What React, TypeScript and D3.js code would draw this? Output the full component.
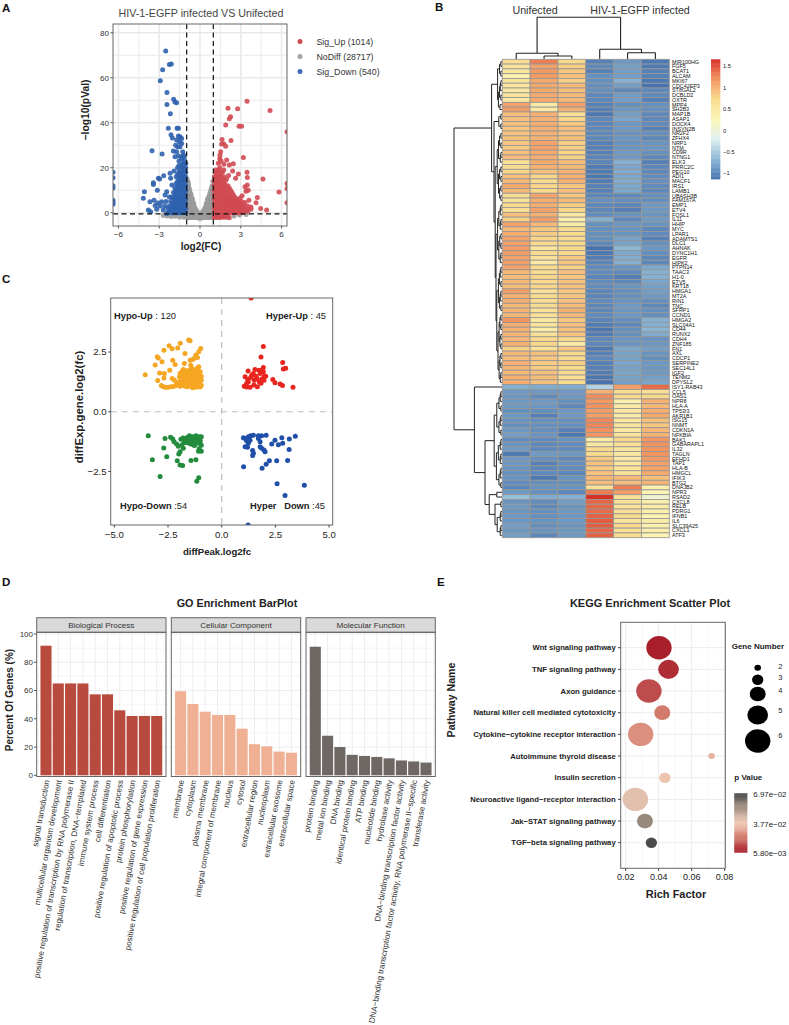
import * as d3 from "d3";

const FONT = "'Liberation Sans', Arial, sans-serif";
const MINUS = "\u2212";
const fmt = (s: string | number) => String(s).replace("-", MINUS);

// ---- A: volcano ----
const volcanoXTicks = [-6, -3, 0, 3, 6];
const volcanoYTicks = [0, 20, 40, 60, 80];
const volcanoLegend = ["Sig_Up (1014)", "NoDiff (28717)", "Sig_Down (540)"];

const greyColumns: [number, number[]][] = [
  [-2.7, [-1.2]], [-2.4, [-1.5]], [-2.1, [-1.7]], [-1.8, [-1.6]], [-1.5, [-1.9]], [-1.2, [-2]],
  [-0.95, [-2, 0, 2, 4, 6, 8, 10, 12, 14, 15]],
  [-0.9, [-2, 0, 2, 4, 6, 8, 10, 12, 14]],
  [-0.85, [-2, 0, 2, 4, 6, 8, 10, 12, 13]],
  [-0.8, [-2, 0, 2, 4, 6, 8, 10, 11]],
  [-0.75, [-2, 0, 2, 4, 6, 8, 10]],
  [-0.7, [-2, 0, 2, 4, 6, 8.5]],
  [-0.65, [-2, 0, 2, 4, 6, 8]],
  [-0.6, [-2, 0, 2, 4, 6.5]],
  [-0.55, [-2, 0, 2, 4, 6]],
  [-0.5, [-2, 0, 2, 4.5]],
  [-0.45, [-2, 0, 2, 4]],
  [-0.4, [-2, 0, 2.5]],
  [-0.35, [-2, 0, 2]],
  [-0.25, [-2, 0, 1]],
  [-0.15, [-2.2, -1, 0]],
  [-0.05, [-2.5, -1]],
  [0.05, [-2.5, -1]],
  [0.15, [-2.2, -1, 0]],
  [0.25, [-2, 0, 1]],
  [0.35, [-2, 0, 2]],
  [0.4, [-2, 0, 2.5]],
  [0.45, [-2, 0, 2, 4]],
  [0.5, [-2, 0, 2, 4.5]],
  [0.55, [-2, 0, 2, 4, 6]],
  [0.6, [-2, 0, 2, 4, 6.5]],
  [0.65, [-2, 0, 2, 4, 7]],
  [0.7, [-2, 0, 2, 4, 6, 8]],
  [0.75, [-2, 0, 2, 4, 6, 9]],
  [0.8, [-2, 0, 2, 4, 6, 8, 10]],
  [0.85, [-2, 0, 2, 4, 6, 8, 11]],
  [0.9, [-2, 0, 2, 4, 6, 8, 10, 12]],
  [0.95, [-2, 0, 2, 4, 6, 8, 10, 12, 14]],
  [2.5, [-1.5]], [2.9, [-1]], [3.4, [-0.8]],
];

const upColumns: [number, number[]][] = [
  [1.05, [-2, 0, 2, 4, 6, 8, 10, 12, 14, 16]],
  [1.15, [-2, 0, 2, 4, 6, 8, 10, 12, 14, 16, 18, 19]],
  [1.25, [-2, 0, 2, 4, 6, 8, 10, 12, 14, 16, 18]],
  [1.35, [-2, 0, 2, 4, 6, 8, 10, 12, 14, 16, 19, 22]],
  [1.45, [-2, 0, 2, 4, 6, 8, 10, 12, 14, 17, 20, 24]],
  [1.55, [-2, 0, 2, 4, 6, 8, 10, 12, 14, 16, 18, 23]],
  [1.65, [-1.5, 0, 2, 4, 6, 8, 10, 12, 15, 18]],
  [1.75, [-2, 0, 2, 4, 6, 8, 11, 13, 16, 19]],
  [1.85, [-1, 1, 3, 5, 7, 9, 12, 14]],
  [1.95, [-2, 0, 2, 4, 6, 8, 10, 15]],
  [2.05, [-1, 1, 3, 5, 7, 9, 12]],
  [2.15, [-2.2, 0, 2, 4, 6, 8, 11]],
  [2.25, [0, 2, 4, 5.5, 7, 10]],
  [2.35, [0, 2, 4, 6, 9]],
  [2.45, [0.5, 1, 3, 5, 6.5, 8]],
  [2.55, [0, 2, 4, 5.5, 7]],
  [2.65, [1, 3, 4.5, 6]],
  [2.75, [0, 1.5, 3, 5, 6]],
  [2.85, [0, 2, 3.5, 5]],
  [2.95, [1, 2.5, 4, 6.5]],
  [3.05, [0.5, 2, 3, 5]],
  [3.15, [0, 2, 4]],
  [3.3, [1, 2.5, 4.5]],
  [3.5, [0.5, 1.5, 3]],
  [3.75, [1.5, 2.5]],
];
const upOutliers: [number, number][] = [
  [3.46, 49.6], [5.15, 45.5], [2.06, 46.5], [2.77, 46.2], [2.25, 42.7], [2.16, 41.8], [1.89, 39],
  [2.87, 38.4], [3.06, 38.4], [6.4, 36], [1.62, 32.6], [2.28, 32.1], [1.59, 30.5], [1.76, 30.5],
  [1.89, 29.6], [1.52, 27.1], [1.47, 25.6], [3.19, 24.6], [1.96, 23.4], [2.45, 21.8], [2.16, 21.2],
  [1.76, 21.6], [3.46, 18], [2.82, 17.2], [2.62, 15.3], [4.63, 15], [3.48, 15.7], [3.48, 12.3],
  [3.31, 11.6], [3.38, 9.6], [3.55, 10], [5.81, 9.2], [6.4, 13], [6.4, 10.8], [6.4, 4.4],
  [4.22, 6.8], [4.12, 4.4], [3.6, 5.6], [4.46, 1.9], [4.9, 1.2], [2.4, 18.5], [2.1, 16.5], [3.1, 7.5],
];

const downColumns: [number, number[]][] = [
  [-1.05, [0, 2, 4, 6, 8, 10, 12, 14, 16, 18, 20, 22]],
  [-1.15, [0, 2, 4, 6, 8, 10, 12, 14, 16, 18, 20, 22, 24]],
  [-1.25, [0, 2, 4, 6, 8, 10, 12, 14, 16, 18, 20, 22, 25]],
  [-1.35, [0, 2, 4, 6, 8, 10, 12, 14, 16, 18, 21, 24]],
  [-1.45, [0, 2, 4, 6, 8, 10, 12, 14, 16, 18, 20]],
  [-1.55, [0, 2, 4, 6, 8, 10, 12, 14, 16, 18, 21, 23]],
  [-1.65, [0, 2, 4, 6, 8, 10, 12, 14, 17, 20]],
  [-1.75, [0, 2, 4, 6, 8, 10, 13, 16]],
  [-1.85, [0, 2, 4, 6, 8, 11]],
  [-1.95, [0, 2, 4, 6, 9]],
  [-2.05, [0, 2, 4, 7]],
  [-2.15, [0, 2, 5]],
  [-2.25, [1, 3, 7]],
  [-2.35, [0, 2]],
];
const downOutliers: [number, number][] = [
  [-2.52, 71.9], [-2.25, 65.9], [-2.11, 66.1], [-2.75, 63.6], [-2.92, 58.7], [-2.43, 53.5],
  [-1.94, 50.5], [-1.84, 49.2], [-1.72, 48.9], [-2.43, 48.1], [-2.18, 44], [-2.33, 37.6],
  [-1.69, 37.6], [-1.59, 37.6], [-2.13, 34.7], [-2.03, 33.2], [-1.59, 34.1], [-1.47, 33.8],
  [-1.35, 33], [-1.72, 32.3], [-1.52, 31.6], [-1.35, 30.8], [-1.79, 30], [-1.64, 29.3],
  [-1.47, 29.3], [-3.53, 27.6], [-2.79, 26.1], [-1.96, 27.4], [-1.72, 27.1], [-1.27, 27.1],
  [-1.59, 25.2], [-1.84, 24.9], [-1.35, 24.9], [-1.18, 25.6], [-2.67, 16.4], [-3.06, 15.3],
  [-2.97, 15], [-3.43, 13.3], [-3.43, 12.6], [-4.09, 9.3], [-3.14, 10], [-2.2, 17.5], [-1.91, 18.5],
  [-2.16, 15.3], [-2.06, 12.3], [-2.45, 9.3], [-2.57, 7.9], [-4.17, 6.4], [-3.38, 5.6], [-3.68, 4.9],
  [-3.8, 1.2], [-3.63, 0.4], [-3.19, 1.5], [-2.82, 4.9], [-2.94, 3], [-2.7, 1.2], [-2.45, -0.3],
  [-3.1, 4.3], [-3.3, 3.2], [-2.6, 3], [-2.5, 5],
  [-6.4, 18], [-6.4, 15.5], [-6.4, 12], [-6.4, 11], [-6.4, 5.5], [-6.4, 4.5], [-6.4, 3.8],
];

// ---- B: heatmap ----
const genes = [
  "MIR100HG", "FGF5", "BCAT1", "ALCAM", "MKI67", "CDC42EP3", "ST8GAL2", "DCBLD2", "OXTR", "MPP4",
  "SH2B3", "MAP1B", "ASAP1", "DOCK4", "INSYN2B", "NR2F2", "ZFHX4", "NRP1", "NTM", "CD9R",
  "NTNG1", "ELK3", "PRRC2C", "PEG10", "ADI1", "MACF1", "IRS1", "LAMB1", "UBASH3B", "FAM167A",
  "EMP1", "ETV4", "FOSL1", "IL11", "HHIP", "MYC", "LPAR1", "ADAMTS1", "DLC1", "AHNAK",
  "DYNC1H1", "EGFR", "HIPK2", "PTPN14", "TAAC3", "H1-0", "ETV5", "KRT18", "HMGA1", "MT2A",
  "RIN1", "TNC", "SFRP1", "CCND1", "HMGA2", "SLC04A1", "CD44", "RUNX2", "CDH4", "ZNF185",
  "FN1", "AXL", "CDCP1", "SERPINE2", "SEC14L1", "IGF2", "TENM2", "DPYSL2", "ISY1-RAB43", "CCL5",
  "OAS1", "NPR8", "HLA-A", "TP53I3", "AKR1B1", "ISG15", "NNMT", "CDKN1A", "NFKBIA", "BAK1",
  "GABARAPL1", "IL32", "TAGLN", "EFHD1", "TAP1", "HLA-B", "HMGCL", "IFIK3", "BTG2", "DNAJB2",
  "NPR3", "RSAD2", "CXCL8", "RELB", "PDRG1", "IFNB1", "IL6", "SLC39A25", "CXCL1", "ATF3",
];
const heat: number[][] = [
  [0.65, 1.3, 0.72, -1.05, -0.9, -1.1], [0.55, 1.1, 0.8, -1.0, -0.85, -1.1],
  [0.5, 1.15, 0.85, -1.05, -0.85, -1.05], [0.35, 1.15, 0.9, -0.95, -0.85, -1.05],
  [0.55, 1.05, 0.8, -0.95, -0.7, -1.12], [0.55, 1.05, 0.95, -0.95, -0.85, -1.15],
  [0.5, 1.05, 0.9, -0.95, -1.0, -1.0], [0.55, 1.05, 0.95, -1.0, -0.85, -1.0],
  [0.5, 1.05, 0.95, -1.0, -0.85, -1.05], [1.1, 0.45, 1.12, -1.05, -0.95, -0.95],
  [1.12, 0.45, 1.0, -1.05, -0.9, -0.95], [0.9, 1.0, 0.62, -1.12, -0.85, -1.0],
  [0.9, 1.0, 0.75, -1.0, -0.8, -1.0], [0.9, 1.02, 0.85, -1.02, -0.9, -0.98],
  [0.85, 1.02, 0.9, -1.0, -0.88, -1.05], [0.88, 1.0, 0.88, -1.0, -0.92, -0.95],
  [0.9, 0.98, 0.9, -1.0, -0.9, -1.0], [0.85, 1.08, 0.8, -1.05, -0.92, -0.92],
  [0.82, 1.1, 0.8, -1.05, -0.92, -0.9], [0.9, 1.05, 0.75, -1.05, -0.88, -0.95],
  [0.92, 1.02, 0.78, -1.02, -0.88, -1.0], [0.6, 1.05, 0.92, -1.02, -0.72, -1.05],
  [0.68, 1.0, 0.95, -1.08, -0.8, -1.0], [0.75, 0.9, 1.0, -1.1, -0.75, -1.0],
  [0.9, 0.75, 1.0, -1.1, -0.78, -0.98], [0.95, 0.7, 1.0, -1.08, -0.75, -0.95],
  [1.05, 0.75, 0.85, -1.05, -0.78, -0.98], [0.95, 0.72, 0.9, -1.05, -0.78, -1.0],
  [0.65, 1.08, 0.85, -1.02, -1.0, -0.95], [0.6, 1.02, 0.95, -0.95, -0.95, -0.95],
  [0.72, 1.02, 0.82, -1.0, -1.02, -0.88], [0.62, 1.08, 0.75, -1.0, -1.05, -0.88],
  [0.9, 1.0, 0.5, -0.98, -0.92, -0.92], [0.78, 1.12, 0.38, -0.72, -1.02, -0.88],
  [1.1, 0.95, 0.42, -0.95, -0.9, -0.92], [0.95, 0.85, 0.7, -0.95, -0.92, -1.0],
  [1.02, 0.82, 0.72, -0.95, -0.92, -0.98], [1.08, 0.75, 0.7, -0.95, -0.82, -1.05],
  [1.1, 0.72, 0.72, -1.0, -0.82, -0.95], [1.12, 0.55, 0.72, -1.15, -0.68, -0.9],
  [1.12, 0.7, 0.72, -1.1, -0.78, -0.95], [1.1, 0.62, 0.85, -1.08, -0.75, -1.0],
  [1.12, 0.45, 0.85, -1.02, -0.72, -1.02], [1.08, 0.72, 0.78, -0.98, -0.92, -0.78],
  [0.95, 0.7, 0.9, -0.98, -0.98, -0.72], [0.92, 0.75, 0.85, -1.02, -1.08, -0.72],
  [0.95, 0.72, 0.88, -0.98, -1.0, -0.8], [0.92, 0.75, 0.88, -0.98, -0.92, -0.85],
  [1.12, 0.62, 0.85, -1.02, -0.95, -0.85], [1.0, 0.7, 0.85, -1.02, -0.95, -0.88],
  [1.02, 0.65, 0.88, -0.98, -0.92, -0.95], [0.95, 0.68, 0.92, -1.0, -0.88, -1.0],
  [0.98, 0.6, 1.0, -1.0, -0.9, -0.95], [0.95, 0.62, 0.95, -0.98, -0.88, -0.95],
  [1.18, 0.5, 0.85, -1.02, -0.95, -0.72], [1.02, 0.55, 0.9, -1.08, -1.0, -0.72],
  [1.0, 0.42, 0.9, -1.12, -0.95, -0.68], [0.98, 0.62, 0.88, -1.08, -0.95, -0.75],
  [0.95, 0.72, 0.72, -1.0, -0.9, -0.92], [1.0, 0.75, 0.45, -1.0, -0.92, -0.9],
  [0.78, 0.6, 0.85, -1.1, -0.78, -0.85], [0.95, 0.9, 0.72, -1.05, -0.82, -0.92],
  [0.92, 0.85, 0.72, -1.0, -0.82, -0.95], [1.0, 0.82, 0.8, -1.05, -0.8, -0.9],
  [0.98, 0.82, 0.72, -1.05, -0.82, -0.9], [0.95, 0.9, 0.68, -1.08, -0.8, -0.88],
  [1.0, 0.92, 0.65, -1.12, -0.82, -0.85], [1.02, 0.9, 0.7, -1.15, -0.85, -0.8],
  [-0.72, -0.75, -0.75, -0.45, 1.12, 1.38], [-0.88, -0.88, -0.88, 1.0, 0.68, 0.62],
  [-0.9, -0.98, -0.9, 1.22, 0.7, 0.72], [-0.88, -0.88, -0.95, 1.15, 0.38, 1.0],
  [-0.88, -0.9, -1.0, 1.2, 0.48, 0.95], [-0.95, -0.95, -0.88, 1.12, 0.5, 1.02],
  [-0.9, -1.05, -0.88, 1.12, 0.42, 1.05], [-0.92, -0.95, -0.95, 1.25, 0.5, 0.9],
  [-0.95, -0.95, -0.95, 1.25, 0.55, 0.85], [-0.88, -0.95, -1.05, 1.2, 0.5, 0.95],
  [-0.85, -0.92, -1.12, 1.18, 0.55, 0.98], [-0.98, -0.98, -0.92, 0.42, 0.72, 1.18],
  [-0.92, -1.0, -0.98, 0.5, 0.6, 1.2], [-0.88, -1.0, -0.98, 0.72, 0.55, 1.18],
  [-1.1, -0.88, -0.88, 0.72, 0.5, 1.18], [-0.88, -0.95, -1.0, 0.85, 0.45, 1.15],
  [-0.9, -1.05, -0.95, 0.88, 0.5, 1.1], [-0.92, -1.02, -0.98, 0.82, 0.55, 1.08],
  [-0.95, -0.98, -1.02, 0.88, 0.62, 1.05], [-0.92, -1.1, -0.92, 0.95, 0.95, 0.9],
  [-0.98, -0.95, -0.95, 0.92, 0.9, 0.98], [-1.02, -0.92, -0.92, 0.6, 1.3, 0.38],
  [-0.88, -0.95, -1.02, 1.3, 1.12, 0.3], [-0.6, -0.75, -0.72, 1.66, 0.62, 0.05],
  [-0.92, -0.98, -0.85, 1.4, 0.58, 0.4], [-0.88, -1.0, -0.92, 1.4, 0.58, 0.42],
  [-0.92, -0.95, -0.9, 1.38, 0.62, 0.38], [-0.88, -0.95, -0.9, 1.42, 0.72, 0.32],
  [-0.9, -0.92, -0.9, 1.45, 0.55, 0.4], [-0.85, -0.95, -0.92, 1.45, 0.72, 0.35],
  [-0.9, -0.92, -0.9, 1.4, 0.62, 0.38], [-0.85, -1.0, -0.88, 1.42, 0.68, 0.3],
];
const heatColors = ["#4a76b2", "#8db8d6", "#e0f0f0", "#fbf6b5", "#f9d98c", "#f2935f", "#d73027"];
const heatBarTicks = [1.5, 1, 0.5, 0, -0.5, -1];

// [first leaf, last leaf, last leaf of the left child, height]
const rowNodes: number[][] = [
  [0, 99, 67, 12], [0, 67, 10, 2.6], [0, 10, 3, 1.1], [0, 3, 1, 0.6], [4, 10, 8, 0.9], [4, 8, 6, 0.6], [9, 10, 9, 0.5],
  [11, 67, 14, 2.0], [11, 14, 12, 0.8], [15, 67, 29, 1.7], [15, 29, 21, 1.2], [30, 67, 42, 1.5], [30, 42, 35, 1.1],
  [43, 67, 52, 1.3], [43, 52, 47, 0.9], [53, 67, 60, 1.0],
  [68, 99, 68, 6.9], [69, 99, 89, 4.25], [69, 89, 78, 1.95], [69, 78, 73, 1.3], [79, 89, 84, 1.4],
  [90, 99, 91, 3.2], [90, 91, 90, 1.3], [92, 99, 93, 1.75], [94, 99, 96, 1.2],
];
const colNodes: number[][] = [
  [0, 5, 2, 41.7], [0, 2, 0, 5.7], [1, 2, 1, 3], [3, 5, 3, 9.7], [4, 5, 4, 6.3],
];

// ---- C: quadrant scatter ----
const quadXTicks = [-5, -2.5, 0, 2.5, 5];
const quadYTicks = [-2.5, 0, 2.5];
const hypoUp: [number, number][] = [
  [-3.56, 1.55], [-3.0, 2.3], [-2.95, 2.25], [-3.1, 1.96], [-2.78, 2.09], [-2.69, 2.57], [-2.45, 2.76], [-2.31, 2.64],
  [-1.93, 2.87], [-2.05, 2.67], [-1.54, 3.0], [-1.47, 2.97], [-0.98, 2.65], [-1.07, 2.51], [-1.2, 2.37], [-1.71, 2.44],
  [-2.28, 2.16], [-2.17, 1.98], [-1.74, 2.02], [-1.47, 2.16], [-1.35, 2.19], [-1.29, 2.23], [-1.13, 2.27], [-2.42, 1.74],
  [-2.89, 1.62], [-2.67, 1.6], [-2.69, 1.41], [-2.98, 1.31], [-2.81, 1.1], [-2.72, 1.05], [-2.62, 1.02], [-2.5, 1.03],
  [-2.37, 1.05], [-2.26, 1.06], [-2.15, 1.09], [-2.31, 1.39], [-2.2, 1.32], [-2.09, 1.18], [-1.97, 1.46], [-1.94, 1.6],
  [-1.86, 1.67], [-1.79, 1.77], [-1.82, 1.46], [-1.76, 1.32], [-1.86, 1.25], [-1.97, 1.25], [-1.82, 1.11], [-1.71, 1.07],
  [-1.66, 1.21], [-1.63, 1.46], [-1.55, 1.6], [-1.47, 1.74], [-1.41, 1.85], [-1.35, 1.67], [-1.41, 1.46], [-1.47, 1.32],
  [-1.55, 1.18], [-1.44, 1.07], [-1.32, 1.11], [-1.24, 1.25], [-1.27, 1.46], [-1.21, 1.62], [-1.16, 1.81], [-1.07, 1.88],
  [-1.0, 1.67], [-0.95, 1.49], [-1.0, 1.32], [-1.07, 1.18], [-1.16, 1.04], [-1.0, 1.04], [-0.95, 1.11], [-1.13, 1.39],
  [-1.32, 1.32], [-1.71, 1.6], [-1.57, 1.38], [-1.94, 1.07], [-1.69, 1.72], [-1.44, 1.95], [-1.04, 1.57], [-0.95, 1.32],
  [-1.16, 1.53], [-1.35, 1.0], [-1.25, 1.04], [-1.1, 1.25], [-1.6, 1.05], [-1.5, 1.25], [-1.85, 1.35], [-1.9, 1.55],
  [-1.05, 1.45], [-1.2, 1.15], [-1.28, 1.72], [-1.12, 1.7], [-1.62, 1.25], [-1.7, 1.38], [-1.38, 1.55], [-1.48, 1.55],
  [-1.78, 1.2], [-1.58, 1.72], [-1.33, 1.22], [-1.18, 1.33],
];
const hyperUp: [number, number][] = [
  [1.94, 2.73], [1.83, 2.29], [2.84, 2.06], [2.98, 1.82], [2.87, 1.79], [1.94, 1.85], [1.86, 1.74], [1.74, 1.74],
  [1.55, 1.77], [1.23, 1.7], [1.09, 1.46], [1.21, 1.35], [1.4, 1.53], [1.6, 1.49], [1.79, 1.6], [1.99, 1.49], [2.05, 1.49],
  [1.86, 1.37], [1.75, 1.26], [1.63, 1.39], [1.52, 1.32], [1.35, 1.43], [1.16, 1.18], [1.05, 1.07], [1.16, 1.04],
  [1.32, 1.02], [1.5, 1.12], [1.66, 1.05], [1.83, 1.19], [1.97, 1.32], [2.38, 1.35], [2.48, 1.21], [2.72, 1.16],
  [2.83, 1.1], [3.32, 1.02], [1.24, 1.26], [1.47, 1.6], [1.94, 1.67], [1.37, 4.76],
];
const hypoDown: [number, number][] = [
  [-3.42, -1.0], [-3.23, -2.01], [-2.87, -2.71], [-2.7, -1.52], [-2.64, -1.12], [-2.56, -1.88], [-2.38, -1.07],
  [-2.28, -1.14], [-2.22, -1.26], [-2.1, -1.35], [-2.02, -1.44], [-1.86, -1.39], [-1.79, -1.53], [-1.94, -1.67],
  [-2.0, -1.77], [-2.07, -2.05], [-1.94, -2.23], [-1.82, -2.25], [-1.43, -2.04], [-1.2, -2.01], [-1.07, -2.76],
  [-1.16, -2.91], [-1.9, -1.15], [-1.8, -1.1], [-1.7, -1.2], [-1.6, -1.3], [-1.55, -1.05], [-1.5, -1.0], [-1.45, -1.15],
  [-1.4, -1.3], [-1.35, -1.05], [-1.3, -1.2], [-1.25, -1.4], [-1.2, -1.0], [-1.15, -1.15], [-1.1, -1.3], [-1.05, -1.05],
  [-1.0, -1.2], [-0.95, -1.4], [-1.05, -1.55], [-0.95, -1.65], [-1.08, -1.65], [-1.3, -1.4], [-1.45, -1.35],
  [-1.65, -1.1], [-1.2, -1.25], [-0.95, -1.05], [-1.0, -1.33], [-1.5, -1.2], [-1.75, -1.3],
];
const hyperDown: [number, number][] = [
  [1.02, -2.3], [1.01, -1.09], [1.09, -1.12], [1.24, -1.05], [1.35, -1.0], [1.48, -0.98], [1.71, -1.0], [1.86, -1.01],
  [2.07, -0.98], [1.16, -1.21], [1.32, -1.19], [1.24, -1.32], [1.09, -1.46], [1.2, -1.49], [1.44, -1.62], [1.48, -1.74],
  [1.44, -1.83], [1.79, -1.46], [1.86, -1.53], [1.97, -1.6], [2.02, -1.67], [1.71, -1.12], [1.79, -1.26], [2.33, -1.35],
  [2.48, -1.19], [2.64, -1.38], [2.8, -1.09], [2.84, -1.32], [3.15, -1.14], [3.43, -1.03], [3.14, -1.58], [3.07, -2.04],
  [2.56, -2.05], [2.22, -2.05], [2.07, -2.2], [1.88, -2.37], [2.58, -3.01], [3.85, -3.08], [2.95, -3.51], [1.23, -4.74],
];

// ---- D: GO bars ----
const goTicks = [0, 20, 40, 60, 80, 100];
const bpTerms = [
  "signal transduction", "multicellular organism development", "positive regulation of transcription by RNA polymerase II",
  "regulation of transcription, DNA\u2212templated", "immune system process", "cell differentiation",
  "positive regulation of apoptotic process", "protein phosphorylation", "positive regulation of gene expression",
  "positive regulation of cell population proliferation",
];
const bpValues = [91.7, 65, 65, 65, 57.3, 57.3, 46, 42, 42, 42];
const ccTerms = [
  "membrane", "cytoplasm", "plasma membrane", "integral component of membrane", "nucleus", "cytosol",
  "extracellular region", "nucleoplasm", "extracellular exosome", "extracellular space",
];
const ccValues = [59.5, 50.5, 45, 42.7, 42.7, 33, 22, 20.5, 16.8, 16];
const mfTerms = [
  "protein binding", "metal ion binding", "DNA binding", "identical protein binding", "ATP binding", "nucleotide binding",
  "hydrolase activity", "DNA\u2212binding transcription factor activity",
  "DNA\u2212binding transcription factor activity, RNA polymerase II\u2212specific", "transferase activity",
];
const mfValues = [91, 28, 20, 14.5, 13.7, 13, 12, 10.5, 9.8, 9];
const facetNames = ["Biological Process", "Cellular Component", "Molecular Function"];
const facetColors = ["#b84a3e", "#f0b094", "#6e6763"];

// ---- E: KEGG ----
const pathways = [
  "Wnt signaling pathway", "TNF signaling pathway", "Axon guidance", "Natural killer cell mediated cytotoxicity",
  "Cytokine\u2212cytokine receptor interaction", "Autoimmune thyroid disease", "Insulin secretion",
  "Neuroactive ligand\u2212receptor interaction", "Jak\u2212STAT signaling pathway", "TGF\u2212beta signaling pathway",
];
const richFactor = [0.0402, 0.046, 0.0341, 0.0422, 0.0291, 0.0721, 0.0438, 0.0259, 0.0317, 0.0356];
const geneNumber = [6, 5, 6, 4, 6, 2, 3, 6, 4, 3];
const pValue = [0.0058, 0.0085, 0.014, 0.022, 0.026, 0.033, 0.036, 0.041, 0.056, 0.0697];
const richTicks = [0.02, 0.04, 0.06, 0.08];
const sizeLegend = [2, 3, 4, 5, 6];

function expand(cols: [number, number[]][]): [number, number][] {
  return cols.flatMap(([x, ys]) => ys.map((y) => [x, y] as [number, number]));
}

// walks an interval tree and returns elbow segments in (leaf, height) space
function treeSegments(nodes: number[][], a: number, b: number, segs: number[][], parentH = Infinity): [number, number] {
  if (a === b) return [a, 0];
  const node = nodes.find((n) => n[0] === a && n[1] === b);
  const split = node ? node[2] : Math.floor((a + b) / 2);
  const h = node ? node[3] : Math.min(parentH * 0.72, (b - a) * 0.16 + 0.12);
  const [p1, h1] = treeSegments(nodes, a, split, segs, h);
  const [p2, h2] = treeSegments(nodes, split + 1, b, segs, h);
  segs.push([p1, h1, p1, h], [p1, h, p2, h], [p2, h, p2, h2]);
  return [(p1 + p2) / 2, h];
}

function Frame({ x0, x1, y0, y1 }: { x0: number; x1: number; y0: number; y1: number }) {
  return <rect x={x0} y={y0} width={x1 - x0} height={y1 - y0} fill="none" stroke="#666" strokeWidth={1} />;
}

function Volcano() {
  const x = d3.scaleLinear().domain([-6.4, 6.4]).range([113, 287]);
  const y = d3.scaleLinear().domain([-5.9, 83.9]).range([226, 24]);
  const series = [
    { pts: expand(greyColumns), color: "#9a9a9a" },
    { pts: [...expand(upColumns), ...upOutliers], color: "#d04a52" },
    { pts: [...expand(downColumns), ...downOutliers], color: "#2f62ad" },
  ];
  const legendColors = ["#d04a52", "#a5a5a5", "#3f6cb4"];
  const xMinor = d3.range(-6, 6.1, 1.5);
  const yMinor = d3.range(0, 81, 10);
  return (
    <g fontFamily={FONT}>
      <text x={201} y={17} textAnchor="middle" fontSize={10.7} fill="#444">HIV-1-EGFP infected VS Unifected</text>
      <defs>
        <clipPath id="volc"><rect x={113} y={24} width={174} height={202} /></clipPath>
      </defs>
      {xMinor.map((t) => (
        <line key={t} x1={x(t)} x2={x(t)} y1={24} y2={226} stroke="#e9e9e9" strokeWidth={volcanoXTicks.includes(t) ? 1.5 : 0.9} />
      ))}
      {yMinor.map((t) => (
        <line key={t} y1={y(t)} y2={y(t)} x1={113} x2={287} stroke="#e9e9e9" strokeWidth={t % 20 === 0 ? 1.5 : 0.9} />
      ))}
      <g clipPath="url(#volc)">
        {series.map((s, i) => (
          <g key={i} fill={s.color} fillOpacity={0.9}>
            {s.pts.map((p, j) => <circle key={j} cx={x(p[0])} cy={y(p[1])} r={2.5} />)}
          </g>
        ))}
      </g>
      <g stroke="#111" strokeWidth={1.2} strokeDasharray="5 3.5">
        <line x1={x(-0.98)} x2={x(-0.98)} y1={24} y2={226} />
        <line x1={x(0.98)} x2={x(0.98)} y1={24} y2={226} />
        <line x1={113} x2={287} y1={y(-0.5)} y2={y(-0.5)} />
      </g>
      <Frame x0={113} x1={287} y0={24} y1={226} />
      {volcanoXTicks.map((t) => (
        <g key={t}>
          <line x1={x(t)} x2={x(t)} y1={226} y2={228.5} stroke="#555" />
          <text x={x(t)} y={237} textAnchor="middle" fontSize={8} fill="#333">{fmt(t)}</text>
        </g>
      ))}
      {volcanoYTicks.map((t) => (
        <g key={t}>
          <line x1={110.5} x2={113} y1={y(t)} y2={y(t)} stroke="#555" />
          <text x={109} y={y(t)} dy="0.35em" textAnchor="end" fontSize={8} fill="#333">{t}</text>
        </g>
      ))}
      <text transform="translate(85,110) rotate(-90)" textAnchor="middle" dy="0.35em" fontWeight="bold" fontSize={10.3} fill="#222">{MINUS}log10(pVal)</text>
      <text x={201} y={250} textAnchor="middle" fontWeight="bold" fontSize={10} fill="#222">log2(FC)</text>
      {volcanoLegend.map((l, i) => (
        <g key={l}>
          <circle cx={300} cy={41.5 + i * 15} r={2.5} fill={legendColors[i]} />
          <text x={316.5} y={41.5 + i * 15} dy="0.35em" fontSize={8.8} fill="#333">{l}</text>
        </g>
      ))}
    </g>
  );
}

function Heatmap() {
  const x = d3.scaleBand<number>().domain(d3.range(6)).range([502.3, 669.3]);
  const y = d3.scaleBand<number>().domain(d3.range(genes.length)).range([59.3, 537.7]);
  const xLeaf = d3.scaleLinear().domain([-0.5, 5.5]).range([502.3, 669.3]);
  const yLeaf = d3.scaleLinear().domain([-0.5, 99.5]).range([59.3, 537.7]);
  const barY = d3.scaleLinear().domain([-1.13, 1.66]).range([179, 59.3]);
  const color = d3
    .scaleLinear<string>()
    .domain(heatColors.map((_, i) => -1.13 + (i * 2.79) / 6))
    .range(heatColors)
    .interpolate(d3.interpolateRgb);
  const rowH = d3.scaleLinear().domain([0, 12]).range([502, 454]);
  const colH = d3.scaleLinear().domain([0, 41.7]).range([59, 17.3]);

  const rowSegs: number[][] = [];
  treeSegments(rowNodes, 0, 99, rowSegs);
  const colSegs: number[][] = [];
  treeSegments(colNodes, 0, 5, colSegs);
  const rowPath = d3.path();
  rowSegs.forEach(([p1, h1, p2, h2]) => {
    rowPath.moveTo(rowH(h1), yLeaf(p1));
    rowPath.lineTo(rowH(h2), yLeaf(p2));
  });
  const colPath = d3.path();
  colSegs.forEach(([p1, h1, p2, h2]) => {
    colPath.moveTo(xLeaf(p1), colH(h1));
    colPath.lineTo(xLeaf(p2), colH(h2));
  });
  const barSteps = d3.range(-1.13, 1.66, 0.03);

  return (
    <g fontFamily={FONT}>
      <text x={535} y={14} textAnchor="middle" fontSize={10.7} fill="#333">Unifected</text>
      <text x={640} y={14} textAnchor="middle" fontSize={10.7} fill="#333">HIV-1-EGFP infected</text>
      <path d={colPath.toString()} fill="none" stroke="#222" strokeWidth={1.1} />
      <path d={rowPath.toString()} fill="none" stroke="#222" strokeWidth={1} />
      {heat.map((row, r) =>
        row.map((v, c) => (
          <rect key={`${r}-${c}`} x={x(c)} y={y(r)} width={x.bandwidth()} height={y.bandwidth()} fill={color(v)} stroke="#969696" strokeWidth={0.85} />
        )),
      )}
      {genes.map((g, i) => (
        <text key={g} x={672} y={y(i)! + y.bandwidth() / 2} dy="0.35em" fontSize={5.4} fill="#111">{g}</text>
      ))}
      {barSteps.map((v) => (
        <rect key={v} x={711} y={barY(v + 0.03)} width={9.3} height={barY(v) - barY(v + 0.03) + 0.4} fill={color(v)} />
      ))}
      {heatBarTicks.map((t) => (
        <text key={t} x={723} y={barY(t)} dy="0.35em" fontSize={5.8} fill="#222">{fmt(t)}</text>
      ))}
    </g>
  );
}

function Quadrants() {
  const x = d3.scaleLinear().domain([-5.17, 5.17]).range([110.7, 332.7]);
  const y = d3.scaleLinear().domain([-4.74, 4.76]).range([525, 298]);
  const groups = [
    { pts: hypoUp, color: "#f5a623" },
    { pts: hyperUp, color: "#e8251f" },
    { pts: hypoDown, color: "#238b3c" },
    { pts: hyperDown, color: "#1f4fa8" },
  ];
  const lab = (tx: number, ty: number, a: string, b: string, anchor = "start") => (
    <text x={tx} y={ty} textAnchor={anchor} dy="0.35em" fontSize={9.3} fill="#222" style={{ whiteSpace: "pre" }}>
      <tspan fontWeight="bold">{a}</tspan>
      <tspan> {b}</tspan>
    </text>
  );
  return (
    <g fontFamily={FONT}>
      <defs>
        <clipPath id="quad"><rect x={110.7} y={298} width={222} height={227} /></clipPath>
      </defs>
      <g stroke="#bdbdbd" strokeWidth={1.2} strokeDasharray="6 5">
        <line x1={x(0)} x2={x(0)} y1={298} y2={525} />
        <line x1={110.7} x2={332.7} y1={y(0)} y2={y(0)} />
      </g>
      <g clipPath="url(#quad)">
        {groups.map((g, i) => (
          <g key={i} fill={g.color}>
            {g.pts.map((p, j) => <circle key={j} cx={x(p[0])} cy={y(p[1])} r={2.5} />)}
          </g>
        ))}
      </g>
      <Frame x0={110.7} x1={332.7} y0={298} y1={525} />
      {quadXTicks.map((t) => (
        <g key={t}>
          <line x1={x(t)} x2={x(t)} y1={525} y2={527.5} stroke="#444" />
          <text x={x(t)} y={538} textAnchor="middle" fontSize={9.6} fill="#222">{fmt(t.toFixed(1))}</text>
        </g>
      ))}
      {quadYTicks.map((t) => (
        <g key={t}>
          <line x1={108.2} x2={110.7} y1={y(t)} y2={y(t)} stroke="#444" />
          <text x={106.5} y={y(t)} dy="0.35em" textAnchor="end" fontSize={9.6} fill="#222">{fmt(t.toFixed(1))}</text>
        </g>
      ))}
      <text transform="translate(79,407) rotate(-90)" textAnchor="middle" dy="0.35em" fontWeight="bold" fontSize={11.4} fill="#222">diffExp.gene.log2(fc)</text>
      <text x={217} y={555} textAnchor="middle" fontWeight="bold" fontSize={9.6} fill="#222">diffPeak.log2fc</text>
      {lab(114, 315.7, "Hypo-Up", ": 120")}
      {lab(326, 315.7, "Hyper-Up", ": 45", "end")}
      {lab(120, 505.7, "Hypo-Down", ":54")}
      {lab(325, 505.7, "Hyper   Down", ":45", "end")}
    </g>
  );
}

function GoBars() {
  const y = d3.scaleLinear().domain([0, 100]).range([775.3, 634]);
  const facets = [
    { x0: 36.7, x1: 166, terms: bpTerms, values: bpValues },
    { x0: 171.3, x1: 300.7, terms: ccTerms, values: ccValues },
    { x0: 306, x1: 435.3, terms: mfTerms, values: mfValues },
  ];
  const top = 632.3;
  const bottom = 776.5;
  return (
    <g fontFamily={FONT}>
      <text x={237} y={607} textAnchor="middle" fontWeight="bold" fontSize={10.8} fill="#222">GO Enrichment BarPlot</text>
      {facets.map((f, i) => {
        const band = d3.scaleBand<number>().domain(d3.range(10)).range([f.x0, f.x1]).paddingInner(0.1).paddingOuter(0.305);
        return (
          <g key={i}>
            {d3.range(10, 101, 10).map((t) => (
              <line key={t} x1={f.x0} x2={f.x1} y1={y(t)} y2={y(t)} stroke="#eeeeee" strokeWidth={t % 20 === 0 ? 1 : 0.6} />
            ))}
            {d3.range(10).map((k) => (
              <line key={k} x1={band(k)! + band.bandwidth() / 2} x2={band(k)! + band.bandwidth() / 2} y1={top} y2={bottom} stroke="#eeeeee" />
            ))}
            {f.values.map((v, k) => (
              <rect key={k} x={band(k)} y={y(v)} width={band.bandwidth()} height={y(0) - y(v)} fill={facetColors[i]} />
            ))}
            <rect x={f.x0} y={617.7} width={f.x1 - f.x0} height={top - 617.7} fill="#d9d9d9" stroke="#666" />
            <text x={(f.x0 + f.x1) / 2} y={625} dy="0.35em" textAnchor="middle" fontSize={8.1} fill="#333">{facetNames[i]}</text>
            <Frame x0={f.x0} x1={f.x1} y0={top} y1={bottom} />
            {f.terms.map((t, k) => (
              <text key={t} transform={`translate(${band(k)! + band.bandwidth() / 2 + 0.7},780) rotate(-80)`} dy="0.35em" textAnchor="end" fontSize={8.1} fill="#333">{t}</text>
            ))}
          </g>
        );
      })}
      {goTicks.map((t) => (
        <g key={t}>
          <line x1={34} x2={36.7} y1={y(t)} y2={y(t)} stroke="#555" />
          <text x={33} y={y(t)} dy="0.35em" textAnchor="end" fontSize={8} fill="#333">{t}</text>
        </g>
      ))}
      <text transform="translate(9,700) rotate(-90)" textAnchor="middle" dy="0.35em" fontWeight="bold" fontSize={10} fill="#222">Percent Of Genes (%)</text>
    </g>
  );
}

function KeggDots() {
  const x = d3.scaleLinear().domain([0.017, 0.0804]).range([620.7, 725.3]);
  const y = d3.scalePoint<string>().domain(pathways).range([647.7, 842.7]);
  const r = d3.scaleLinear().domain([2, 6]).range([3.3, 12.7]);
  const pColor = d3
    .scaleLinear<string>()
    .domain([0.0058, 0.022, 0.0377, 0.056, 0.0697])
    .range(["#a81f2b", "#d27a6c", "#f1ccb8", "#98897d", "#4b4b4b"]);
  const legendY = [667.7, 679.7, 694, 715, 741];
  const legendLabelY = [666, 677, 690.7, 710, 735];
  const barScale = d3.scaleLinear().domain([0.0058, 0.0697]).range([852.3, 793.3]);
  const barValues = d3.range(0.0058, 0.0697, 0.001);
  return (
    <g fontFamily={FONT}>
      <text x={650} y={606.5} textAnchor="middle" fontWeight="bold" fontSize={11} fill="#222">KEGG Enrichment Scatter Plot</text>
      {[0.03, 0.05, 0.07].map((t) => (
        <line key={t} x1={x(t)} x2={x(t)} y1={622.3} y2={868.3} stroke="#f0f0f0" strokeWidth={0.6} />
      ))}
      {richTicks.map((t) => (
        <line key={t} x1={x(t)} x2={x(t)} y1={622.3} y2={868.3} stroke="#ececec" />
      ))}
      {pathways.map((p) => (
        <line key={p} x1={620.7} x2={725.3} y1={y(p)} y2={y(p)} stroke="#ececec" />
      ))}
      {pathways.map((p, i) => (
        <ellipse key={p} cx={x(richFactor[i])} cy={y(p)} rx={r(geneNumber[i])} ry={r(geneNumber[i]) * 0.92} fill={pColor(pValue[i])} />
      ))}
      <Frame x0={620.7} x1={725.3} y0={622.3} y1={868.3} />
      {pathways.map((p) => (
        <g key={p}>
          <line x1={618} x2={620.7} y1={y(p)} y2={y(p)} stroke="#444" />
          <text x={615.7} y={y(p)} dy="0.35em" textAnchor="end" fontWeight="bold" fontSize={7.7} fill="#222">{p}</text>
        </g>
      ))}
      {richTicks.map((t) => (
        <g key={t}>
          <line x1={x(t)} x2={x(t)} y1={868.3} y2={871} stroke="#444" />
          <text x={x(t)} y={880} textAnchor="middle" fontSize={9} fill="#222">{t.toFixed(2)}</text>
        </g>
      ))}
      <text transform="translate(451,700) rotate(-90)" textAnchor="middle" dy="0.35em" fontWeight="bold" fontSize={10.6} fill="#222">Pathway Name</text>
      <text x={676} y={898} textAnchor="middle" fontWeight="bold" fontSize={11} fill="#222">Rich Factor</text>
      <text x={731.7} y={646} dy="0.35em" fontWeight="bold" fontSize={8} fill="#222">Gene Number</text>
      {sizeLegend.map((g, i) => (
        <g key={g}>
          <ellipse cx={757.7} cy={legendY[i]} rx={r(g)} ry={r(g) * 0.92} fill="#000" />
          <text x={778.3} y={legendLabelY[i]} dy="0.35em" fontSize={7.5} fill="#222">{g}</text>
        </g>
      ))}
      <text x={734.3} y={777.3} dy="0.35em" fontWeight="bold" fontSize={8} fill="#222">p Value</text>
      {barValues.map((v) => (
        <rect key={v} x={734.3} y={barScale(v + 0.001)} width={13} height={barScale(v) - barScale(v + 0.001) + 0.4} fill={pColor(v)} />
      ))}
      <text x={753.3} y={794.7} dy="0.35em" fontSize={7.9} fill="#222">6.97e{MINUS}02</text>
      <text x={753.3} y={824} dy="0.35em" fontSize={7.9} fill="#222">3.77e{MINUS}02</text>
      <text x={753.3} y={853.3} dy="0.35em" fontSize={7.9} fill="#222">5.80e{MINUS}03</text>
    </g>
  );
}

export default function App() {
  const letters: [string, number, number][] = [["A", 2, 12], ["B", 435, 11], ["C", 2, 283], ["D", 2, 586], ["E", 437, 586]];
  return (
    <svg width={789} height={1025} viewBox="0 0 789 1025" style={{ position: "absolute", left: 0, top: 0, background: "#fff" }}>
      {letters.map(([l, x, y]) => (
        <text key={l} x={x} y={y} fontFamily={FONT} fontWeight="bold" fontSize={11.5} fill="#111">{l}</text>
      ))}
      <Volcano />
      <Heatmap />
      <Quadrants />
      <GoBars />
      <KeggDots />
    </svg>
  );
}
